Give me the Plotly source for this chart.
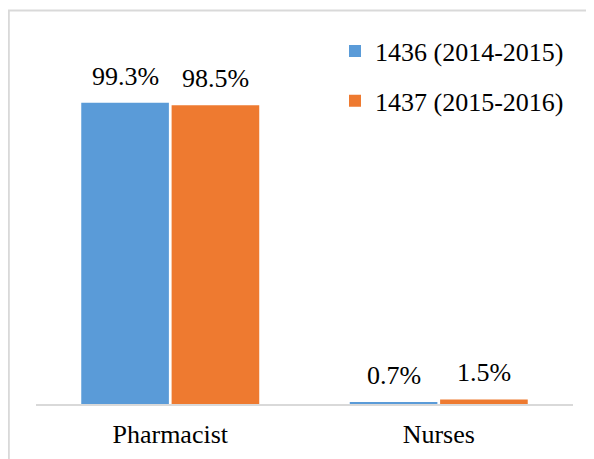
import plotly.graph_objects as go

categories = ["Pharmacist", "Nurses"]
series_names = ["1436 (2014-2015)", "1437 (2015-2016)"]
values_1436 = [99.3, 0.7]
values_1437 = [98.5, 1.5]
colors = ["#5a9bd8", "#ee7a30"]

# the page body has an 8px margin, so figure pixels = page pixels - 8
OFF = 8
W, H = 594, 459
plot_left, plot_right, plot_top, plot_bottom = 36 - OFF, 573 - OFF, 40.4 - OFF, 404 - OFF
ml, mr, mt, mb = plot_left, W - plot_right, plot_top, H - plot_bottom
pw, ph = W - ml - mr, H - mt - mb

FONT = "'Times New Roman', 'Liberation Serif', 'DejaVu Serif', serif"
FS = 26

fig = go.Figure()
for name, vals, col, grp in [(series_names[0], values_1436, colors[0], "a"),
                             (series_names[1], values_1437, colors[1], "b")]:
    fig.add_trace(go.Bar(
        x=categories, y=vals, name=name, legendgroup=grp,
        marker=dict(color=col, line=dict(width=0)),
    ))

slot = pw / len(categories) * (1 - 0.327) / 2
for vals, sign in [(values_1436, -1), (values_1437, 1)]:
    for c, v in zip(categories, vals):
        fig.add_annotation(x=c, y=v, xref="x", yref="y", text=f"{v:.1f}%",
                           showarrow=False, xshift=sign * slot / 2, yshift=10,
                           yanchor="bottom",
                           font=dict(size=FS, family=FONT, color="black"))

def px2paper_x(px):
    return (px - ml) / pw

def px2paper_y(py):
    return 1 - (py - mt) / ph

fig.add_shape(type="rect", xref="paper", yref="paper",
              x0=px2paper_x(0.8), x1=px2paper_x(620),
              y0=px2paper_y(480), y1=px2paper_y(11 - OFF),
              line=dict(color="#d9d9d9", width=2), fillcolor="rgba(0,0,0,0)",
              layer="below")

fig.update_layout(
    width=W, height=H,
    margin=dict(l=ml, r=mr, t=mt, b=mb, pad=0),
    paper_bgcolor="white", plot_bgcolor="white",
    barmode="group", bargap=0.327, bargroupgap=0.03,
    font=dict(family=FONT, size=FS, color="black"),
    showlegend=True,
    legend=dict(x=px2paper_x(335 - OFF), y=px2paper_y(28 - OFF), xanchor="left", yanchor="top",
                font=dict(size=FS, family=FONT, color="black"),
                traceorder="grouped", tracegroupgap=13,
                bgcolor="rgba(0,0,0,0)", itemwidth=30),
    xaxis=dict(showline=True, linecolor="#d9d9d9", linewidth=2, ticks="",
               showgrid=False, zeroline=False, ticklabelstandoff=6,
               tickfont=dict(size=FS, family=FONT, color="black")),
    yaxis=dict(range=[0, 120], visible=False, showgrid=False, zeroline=False),
)

fig.write_html("out.html")
